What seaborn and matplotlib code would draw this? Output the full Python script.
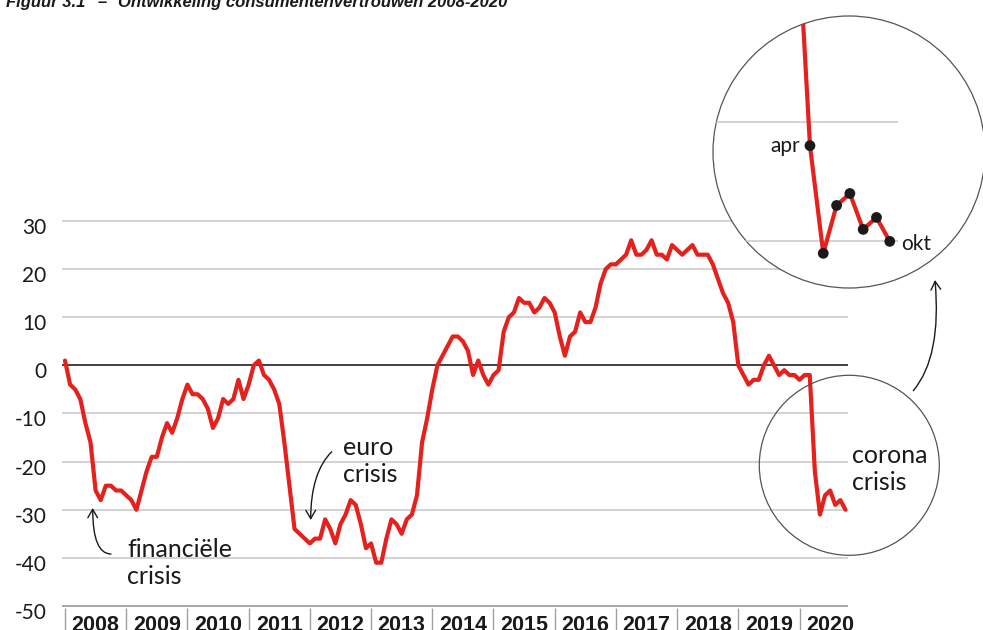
import numpy as np
import matplotlib
matplotlib.use('Agg')
import matplotlib.pyplot as plt
from matplotlib.patches import Circle
from matplotlib.transforms import ScaledTranslation
import seaborn as sns

# Configuration
sns.set_theme(style="white")
plt.rcParams['font.family'] = ['Lato', 'DejaVu Sans']

# Consumentenvertrouwen per maand (jan 2008 - okt 2020)
v2008 = [1, -4, -5, -7, -12, -16, -26, -28, -25, -25, -26, -26]
v2009 = [-27, -28, -30, -26, -22, -19, -19, -15, -12, -14, -11, -7]
v2010 = [-4, -6, -6, -7, -9, -13, -11, -7, -8, -7, -3, -7]
v2011 = [-4, 0, 1, -2, -3, -5, -8, -16, -25, -34, -35, -36]
v2012 = [-37, -36, -36, -32, -34, -37, -33, -31, -28, -29, -33, -38]
v2013 = [-37, -41, -41, -36, -32, -33, -35, -32, -31, -27, -16, -11]
v2014 = [-5, 0, 2, 4, 6, 6, 5, 3, -2, 1, -2, -4]
v2015 = [-2, -1, 7, 10, 11, 14, 13, 13, 11, 12, 14, 13]
v2016 = [11, 6, 2, 6, 7, 11, 9, 9, 12, 17, 20, 21]
v2017 = [21, 22, 23, 26, 23, 23, 24, 26, 23, 23, 22, 25]
v2018 = [24, 23, 24, 25, 23, 23, 23, 21, 18, 15, 13, 9]
v2019 = [0, -2, -4, -3, -3, 0, 2, 0, -2, -1, -2, -2]
v2020 = [-3, -2, -2, -22, -31, -27, -26, -29, -28, -30]

jaren = [2008, 2009, 2010, 2011, 2012, 2013, 2014, 2015, 2016, 2017, 2018, 2019, 2020]
y_ticks = [30, 20, 10, 0, -10, -20, -30, -40, -50]
y_labels = ['30', '20', '10', '0', '-10', '-20', '-30', '-40', '-50']
inzoom_grid = [-20, -30]
inzoom_labels = ['apr', 'okt']

vertrouwen = np.array(v2008 + v2009 + v2010 + v2011 + v2012 + v2013 + v2014
                      + v2015 + v2016 + v2017 + v2018 + v2019 + v2020)
maanden = np.arange(len(vertrouwen))

ROOD = '#e4211c'
ZWART = '#1a1a1a'
GRIJS = '#d0d0d0'
W, H = 983, 630


def px(x, y):
    # pixelpositie (vanaf linksboven) -> figure fraction
    return (x / W, 1 - y / H)


fig = plt.figure(figsize=(W / 100, H / 100), dpi=100, facecolor='white')

# Hoofdgrafiek
ax = fig.add_axes([62 / W, 1 - 608.4 / H, (848 - 62) / W, (608.4 - 218.6) / H])
ax.set_yticks(y_ticks)
ax.grid(axis='y', color=GRIJS, lw=1.3)
ax.grid(axis='x', visible=False)
ax.set_axisbelow(True)
ax.axhline(0, color=ZWART, lw=1.1, zorder=1.5)
ax.axhline(y_ticks[-1], color='#a0a0a0', lw=1.2, zorder=1.5)
sns.lineplot(x=maanden, y=vertrouwen, ax=ax, color=ROOD, lw=3, zorder=3)
ax.set_xlim(-0.59, 153.5)
ax.set_ylim(-50.5, 30.5)
ax.set_xlabel('')
ax.set_ylabel('')
for s in ax.spines.values():
    s.set_visible(False)

# jaren in vakjes onder de as
ax.set_xticks([12 * k + 6 for k in range(len(jaren))], labels=[str(j) for j in jaren])
ax.set_xticks([12 * k for k in range(len(jaren))], minor=True)
ax.tick_params(axis='x', which='major', bottom=False, length=0, pad=4.5,
               labelsize=15.5, labelcolor=ZWART)
ax.tick_params(axis='x', which='minor', bottom=True, length=17, width=1,
               color='#a0a0a0', direction='out')
for lab in ax.get_xticklabels():
    lab.set_fontfamily(['Liberation Sans', 'DejaVu Sans'])
    lab.set_fontweight('bold')

ax.set_yticklabels(y_labels)
ax.tick_params(axis='y', length=0, pad=11, labelsize=15, labelcolor=ZWART)
for lab in ax.get_yticklabels():
    lab.set_transform(lab.get_transform() + ScaledTranslation(0, -0.05, fig.dpi_scale_trans))

# Titel (bovenaan afgesneden)
titel = dict(fontsize=12, fontweight='bold', fontstyle='italic', color=ZWART,
             family=['Liberation Sans', 'DejaVu Sans'], va='baseline')
fig.text(*px(85, 7), 'Figuur 3.1', ha='right', **titel)
fig.text(*px(102, 7), '–', ha='center', **titel)
fig.text(*px(118, 7), 'Ontwikkeling consumentenvertrouwen 2008-2020', ha='left', **titel)

# Annotaties
tekst = dict(fontsize=18, color=ZWART, ha='left', va='center', linespacing=1.25)
fig.text(*px(127, 563), 'financiële\ncrisis', **tekst)
fig.text(*px(343, 461), 'euro\ncrisis', **tekst)
fig.text(*px(852, 469), 'corona\ncrisis', **tekst)

pijl = dict(arrowstyle='->,head_length=0.6,head_width=0.35', color=ZWART, lw=1.0,
            shrinkA=0, shrinkB=0, mutation_scale=10)
ax.annotate('', xy=px(92.7, 508), xycoords='figure fraction',
            xytext=px(111, 554), textcoords='figure fraction',
            arrowprops=dict(connectionstyle='angle3,angleA=0,angleB=90', **pijl))
ax.annotate('', xy=px(310.7, 520), xycoords='figure fraction',
            xytext=px(331.7, 451.7), textcoords='figure fraction',
            arrowprops=dict(connectionstyle='angle3,angleA=45,angleB=90', **pijl))
ax.annotate('', xy=px(935, 280), xycoords='figure fraction',
            xytext=px(913.3, 390.7), textcoords='figure fraction',
            arrowprops=dict(connectionstyle='angle3,angleA=50,angleB=95', **pijl))

# kleine cirkel rond de coronadip
fig.add_artist(Circle((849.3 / 100, (H - 465.3) / 100), 0.90, transform=fig.dpi_scale_trans,
                      fill=False, edgecolor='#555555', lw=0.9))

# Uitvergroting in de grote cirkel
cx, cy, r = 849, 152, 136
axin = fig.add_axes([(cx - r) / W, 1 - (cy + r) / H, 2 * r / W, 2 * r / H])
rand = Circle((0.5, 0.5), 0.5, transform=axin.transAxes, facecolor='white',
              edgecolor='#555555', lw=0.9, clip_on=False, zorder=0)
axin.add_patch(rand)
grid = axin.hlines(inzoom_grid, 139.7, 153.6, color=GRIJS, lw=1.3, zorder=1)
grid.set_clip_path(rand)
sns.lineplot(x=maanden[-8:], y=vertrouwen[-8:], ax=axin, color=ROOD, lw=3, zorder=2)
for ln in axin.lines:
    ln.set_clip_path(rand)
sns.scatterplot(x=maanden[-7:], y=vertrouwen[-7:], ax=axin, color=ZWART, s=60,
                edgecolor='none', zorder=4)
axin.set_xlim(139.71, 160.16)
axin.set_ylim(-33.9, -11.16)
axin.axis('off')
axin.annotate(inzoom_labels[0], xy=(maanden[-7], vertrouwen[-7]), xytext=(-10, 0),
              textcoords='offset pixels', ha='right', va='center', fontsize=15, color=ZWART)
axin.annotate(inzoom_labels[1], xy=(maanden[-1], vertrouwen[-1]), xytext=(11, -3),
              textcoords='offset pixels', ha='left', va='center', fontsize=15, color=ZWART)

fig.savefig('out.png', dpi=100, facecolor='white')
plt.close()
